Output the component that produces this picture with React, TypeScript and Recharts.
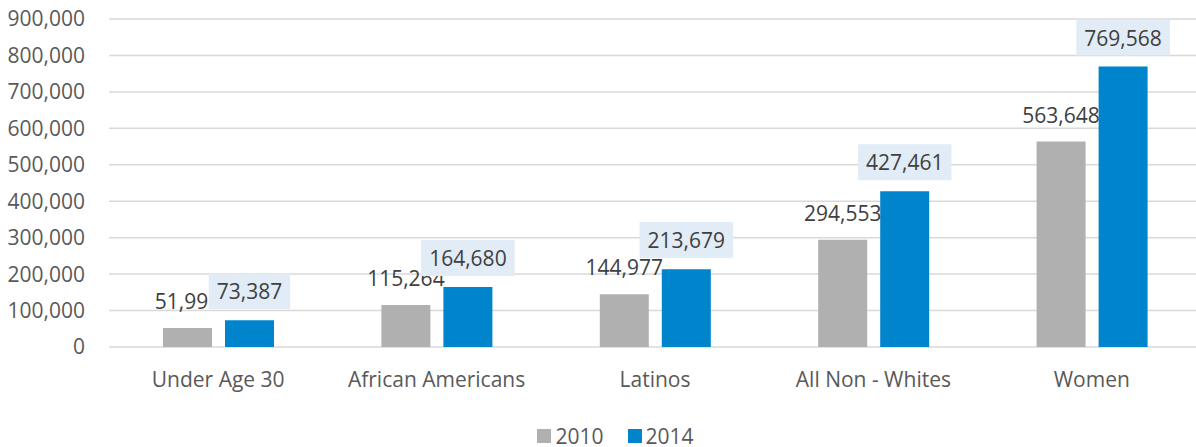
import React from "react";
import { BarChart, Bar, XAxis, YAxis, CartesianGrid, Legend, LabelList } from "recharts";

const categories = ["Under Age 30", "African Americans", "Latinos", "All Non - Whites", "Women"];
const values2010 = [51993, 115264, 144977, 294553, 563648];
const values2014 = [73387, 164680, 213679, 427461, 769568];
const yTicks = [0, 100000, 200000, 300000, 400000, 500000, 600000, 700000, 800000, 900000];
const seriesNames = ["2010", "2014"];

const data = categories.map((c, i) => ({ name: c, v2010: values2010[i], v2014: values2014[i] }));

const FONT = "'Open Sans', sans-serif";
const GRAY = "#b0b0b0";
const BLUE = "#0084cc";
const fmt = (v: number) => v.toLocaleString("en-US");

const GrayLabel = (props: any) => {
  const { x, y, width, value } = props;
  return (
    <text x={x + width / 2} y={y - 27} textAnchor="middle" dominantBaseline="central" fill="#404040" fontSize={21} fontFamily={FONT}>
      {fmt(value)}
    </text>
  );
};

const BlueLabel = (props: any) => {
  const { x, y, width, value } = props;
  const s = fmt(value);
  const digits = s.replace(/,/g, "").length;
  const commas = s.length - digits;
  const tw = digits * 12 + commas * 5.5;
  const bw = tw + 16;
  const cx = x + width / 2;
  return (
    <g>
      <rect x={cx - bw / 2} y={y - 47} width={bw} height={36} fill="#e1ecf7" />
      <text x={cx} y={y - 29} textAnchor="middle" dominantBaseline="central" fill="#404040" fontSize={21} fontFamily={FONT}>
        {s}
      </text>
    </g>
  );
};

const LegendContent = () => (
  <div style={{ display: "flex", justifyContent: "center", alignItems: "center", fontFamily: FONT, fontSize: 21, lineHeight: "20px", color: "#595959", paddingTop: 8, paddingLeft: 30, height: 22 }}>
    {[GRAY, BLUE].map((c, i) => (
      <div key={i} style={{ display: "flex", alignItems: "center", marginRight: i === 0 ? 24 : 0 }}>
        <span style={{ display: "inline-block", width: 14, height: 14, background: c, marginRight: 4 }} />
        <span>{seriesNames[i]}</span>
      </div>
    ))}
  </div>
);

export default function App() {
  return (
    <div style={{ position: "absolute", left: 0, top: 0, width: 1196, height: 447, overflow: "hidden", background: "#fff" }}>
      <BarChart width={1210} height={447} data={data} margin={{ top: 19, right: 9, bottom: 0, left: 0 }} barSize={49} barGap={13}>
        <CartesianGrid vertical={false} stroke="#d9d9d9" strokeWidth={1.5} />
        <XAxis dataKey="name" axisLine={false} tickLine={false} height={70} tickMargin={19}
          tick={{ fill: "#595959", fontSize: 21, fontFamily: FONT }} interval={0} />
        <YAxis width={109} domain={[0, 900000]} ticks={yTicks} axisLine={false} tickLine={false} tickMargin={18}
          tickFormatter={fmt} tick={{ fill: "#595959", fontSize: 21, fontFamily: FONT }} />
        <Legend verticalAlign="bottom" height={30} content={<LegendContent />} />
        <Bar dataKey="v2010" name="2010" fill={GRAY} isAnimationActive={false}>
          <LabelList dataKey="v2010" content={<GrayLabel />} />
        </Bar>
        <Bar dataKey="v2014" name="2014" fill={BLUE} isAnimationActive={false}>
          <LabelList dataKey="v2014" content={<BlueLabel />} />
        </Bar>
      </BarChart>
    </div>
  );
}
